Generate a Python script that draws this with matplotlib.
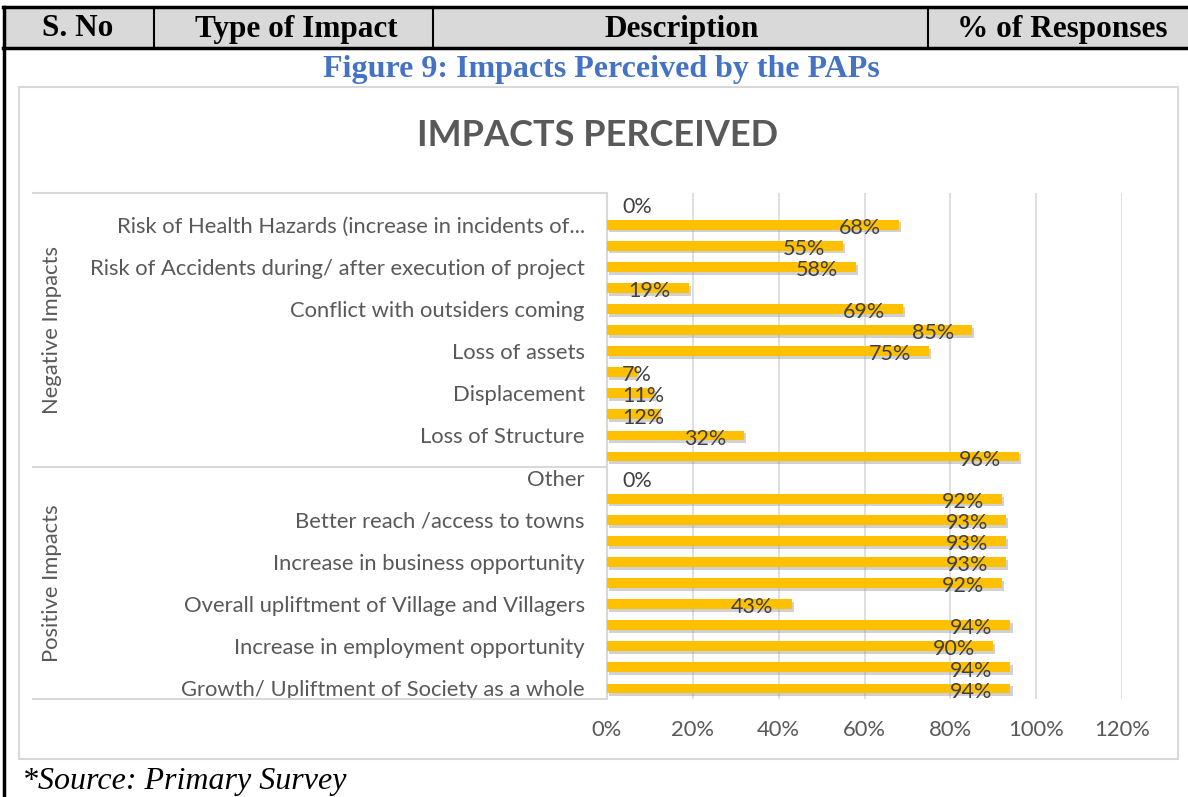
import matplotlib
matplotlib.use('Agg')
import matplotlib.pyplot as plt
import matplotlib.patheffects as pe
import matplotlib.transforms as mtrans
from matplotlib.patches import Rectangle
from matplotlib.lines import Line2D
from matplotlib.ticker import FuncFormatter

# data, top to bottom as shown in the chart (% of responses)
negative_values = [0, 68, 55, 58, 19, 69, 85, 75, 7, 11, 12, 32, 96]
positive_values = [0, 92, 93, 93, 93, 92, 43, 94, 90, 94, 94]

# only every other category name is shown on the axis
negative_labels = ['', 'Risk of Health Hazards (increase in incidents of...', '',
                   'Risk of Accidents during/ after execution of project', '',
                   'Conflict with outsiders coming', '', 'Loss of assets', '',
                   'Displacement', '', 'Loss of Structure', '']
positive_labels = ['Other', '', 'Better reach /access to towns', '',
                   'Increase in business opportunity', '',
                   'Overall upliftment of Village and Villagers', '',
                   'Increase in employment opportunity', '',
                   'Growth/ Upliftment of Society as a whole']
groups = ['Negative Impacts', 'Positive Impacts']
header_cols = ['S. No', 'Type of Impact', 'Description', '% of Responses']

values = negative_values + positive_values
labels = negative_labels + positive_labels
rows = list(range(len(values)))

W, H = 1188, 797
fx = lambda x: x / W
fy = lambda y: 1 - y / H

plt.rcParams['font.family'] = ['Lato', 'DejaVu Sans']
serif = ['Liberation Serif', 'DejaVu Serif']

fig = plt.figure(figsize=(W / 100, H / 100), dpi=100)

# document table header
fig.add_artist(Rectangle((fx(4), fy(48)), fx(1188 - 4), (48 - 7) / H,
                         transform=fig.transFigure, facecolor='#D9D9D9', edgecolor='none'))
for yy in (7, 48):
    fig.add_artist(Line2D([fx(3), 1], [fy(yy), fy(yy)], color='black', lw=2.5))
fig.add_artist(Line2D([fx(4), fx(4)], [fy(7), 0], color='black', lw=2.5))
for xx in (154, 433, 928):
    fig.add_artist(Line2D([fx(xx), fx(xx)], [fy(7), fy(48)], color='black', lw=1.5))
for txt, xc in zip(header_cols, (78, 296, 682, 1062)):
    fig.text(fx(xc), fy(29), txt, ha='center', va='center', fontsize=22.5,
             weight='bold', family=serif)

fig.text(fx(601), fy(70), 'Figure 9: Impacts Perceived by the PAPs', ha='center',
         va='center', fontsize=23, weight='bold', color='#4472C4', family=serif)
fig.text(fx(22), fy(781), '*Source: Primary Survey', ha='left', va='center',
         fontsize=23, style='italic', family=serif)

# chart box
fig.add_artist(Rectangle((fx(19), fy(759)), fx(1178 - 19), (759 - 87) / H,
                         transform=fig.transFigure, facecolor='none',
                         edgecolor='#D9D9D9', lw=1.5))
fig.text(fx(598), fy(136), 'IMPACTS PERCEIVED', ha='center', va='center',
         fontsize=26, weight='bold', color='#595959')

ax = fig.add_axes([fx(607), fy(699), (1122 - 607) / W, (699 - 193) / H])
shadow = [pe.SimplePatchShadow(offset=(1.5, -2), shadow_rgbFace='#9a9a9a', alpha=0.45),
          pe.Normal()]
ax.barh(rows, values, height=0.47, color='#FFC000', path_effects=shadow, zorder=3)

for r, v in zip(rows, values):
    txt = f'{v}%'
    if v < 17.4:
        ax.text(3.5, r + 0.15, txt, ha='left', va='center', fontsize=15.5,
                color='#404040', zorder=4)
    else:
        ax.text(v - 4.2, r + 0.15, txt, ha='right', va='center', fontsize=15.5,
                color='#404040', zorder=4)

ax.set_xlim(0, 120)
ax.set_ylim(len(values) - 0.5, -0.5)
ax.set_xticks(range(0, 121, 20))
ax.xaxis.set_major_formatter(FuncFormatter(lambda x, p: f'{x:.0f}%'))
ax.set_yticks(rows)
ax.set_yticklabels(labels)
ax.grid(axis='x', color='#D9D9D9', lw=1.2)
ax.set_axisbelow(True)
for s in ('top', 'right', 'bottom'):
    ax.spines[s].set_visible(False)
ax.spines['left'].set_color('#D9D9D9')
ax.spines['left'].set_linewidth(1.5)
ax.tick_params(axis='both', length=0, labelsize=15.8, colors='#595959')
ax.tick_params(axis='y', pad=16)
ax.tick_params(axis='x', pad=15)

# multi-level category separators and group names
bt = mtrans.blended_transform_factory(fig.transFigure, ax.transData)
n_neg = len(negative_values)
for yy in (-0.5, n_neg - 0.5, len(values) - 0.5):
    fig.add_artist(Line2D([fx(33), fx(607)], [yy, yy], transform=bt,
                          color='#D9D9D9', lw=1.5))
group_mid = [(n_neg - 1) / 2, n_neg + (len(positive_values) - 1) / 2]
for g, ym in zip(groups, group_mid):
    fig.text(fx(52), ym, g, transform=bt, rotation=90, ha='center', va='center',
             fontsize=15.8, color='#595959')

fig.savefig('out.png', dpi=100)
